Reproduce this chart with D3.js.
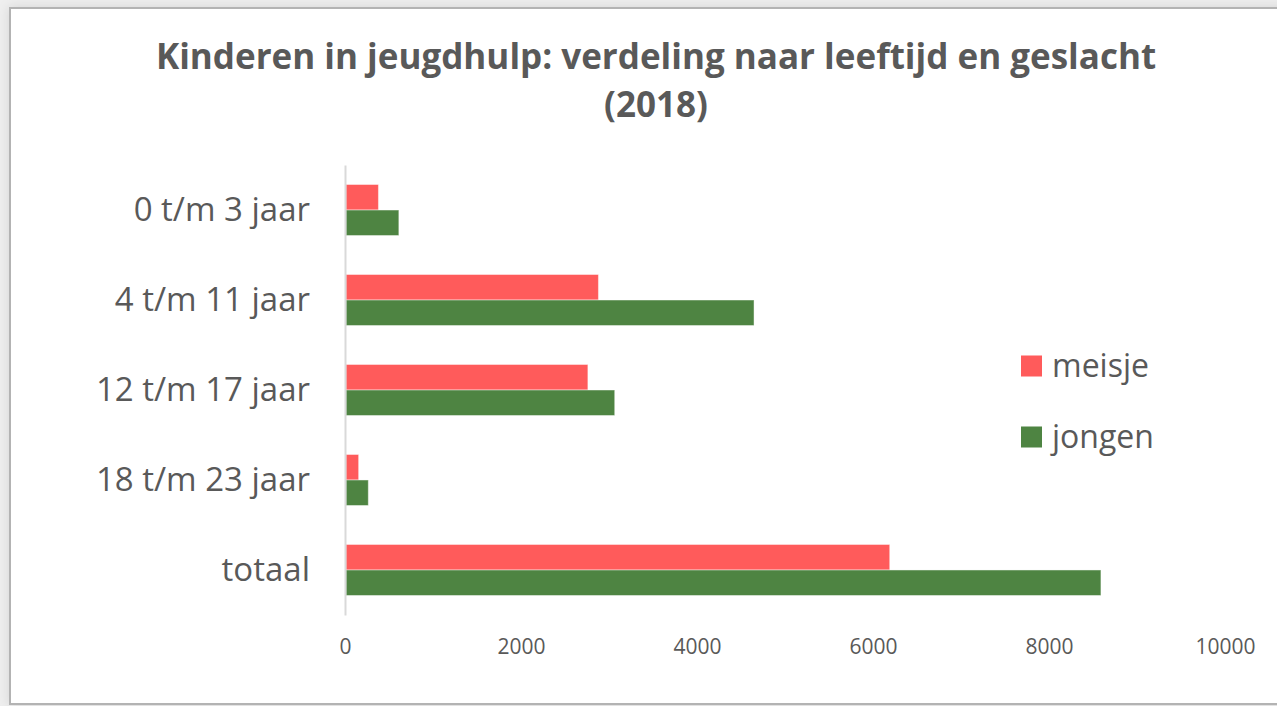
<!DOCTYPE html>
<html>
<head>
<meta charset="utf-8">
<title>Kinderen in jeugdhulp</title>
<script src="https://d3js.org/d3.v7.min.js"></script>
<style>
body { margin: 0; background: #efefef; }
svg { display: block; }
text { font-family: "Open Sans", sans-serif; fill: #595959; }
</style>
</head>
<body>
<svg id="chart" width="1277" height="706"></svg>
<script>
// data
var categories = ["0 t/m 3 jaar", "4 t/m 11 jaar", "12 t/m 17 jaar", "18 t/m 23 jaar", "totaal"];
var series = ["meisje", "jongen"];
var meisje = [380, 2880, 2760, 155, 6190];
var jongen = [612, 4648, 3065, 265, 8590];
var xTicks = [0, 2000, 4000, 6000, 8000, 10000];
var titleLines = ["Kinderen in jeugdhulp: verdeling naar leeftijd en geslacht", "(2018)"];

var colors = {meisje: "#ff5b5b", jongen: "#4e8442"};
var values = {meisje: meisje, jongen: jongen};

var svg = d3.select("#chart");

// frame
var defs = svg.append("defs");
var f = defs.append("filter").attr("id", "shadow")
  .attr("x", "-5%").attr("y", "-5%").attr("width", "110%").attr("height", "110%");
f.append("feGaussianBlur").attr("in", "SourceAlpha").attr("stdDeviation", 6);
f.append("feOffset").attr("dx", 0).attr("dy", 0).attr("result", "blur");
f.append("feFlood").attr("flood-color", "#000").attr("flood-opacity", 0.12);
f.append("feComposite").attr("in2", "blur").attr("operator", "in");
var m = f.append("feMerge");
m.append("feMergeNode");
m.append("feMergeNode").attr("in", "SourceGraphic");

svg.append("rect")
  .attr("x", 10).attr("y", 8)
  .attr("width", 1300).attr("height", 696)
  .attr("fill", "#fff")
  .attr("stroke", "#b3b3b3")
  .attr("stroke-width", 2)
  .attr("filter", "url(#shadow)");

// title
svg.append("g").selectAll("text")
  .data(titleLines)
  .join("text")
  .attr("x", 656)
  .attr("y", function(d, i) { return 69 + i * 48; })
  .attr("text-anchor", "middle")
  .style("font-size", "35px")
  .style("font-weight", "bold")
  .text(function(d) { return d; });

var x = d3.scaleLinear().domain([0, 10000]).range([345, 1225]);
var y = d3.scaleBand().domain(categories).range([165, 615])
  .paddingInner(0.433).paddingOuter(0.2167);
var ySub = d3.scaleBand().domain(series).range([0, y.bandwidth()]);

// bars
var groups = svg.append("g").selectAll("g")
  .data(categories)
  .join("g")
  .attr("transform", function(d) { return "translate(0," + y(d) + ")"; });

groups.selectAll("rect")
  .data(function(d, i) {
    return series.map(function(s) { return {s: s, v: values[s][i]}; });
  })
  .join("rect")
  .attr("x", x(0) + 1)
  .attr("y", function(d) { return ySub(d.s); })
  .attr("width", function(d) { return x(d.v) - x(0) - 1; })
  .attr("height", ySub.bandwidth())
  .attr("fill", function(d) { return colors[d.s]; })
  .attr("stroke", "rgba(255,255,255,0.45)")
  .attr("stroke-width", 1);

// x axis (labels only)
var xAxis = svg.append("g")
  .attr("transform", "translate(0,647)")
  .call(d3.axisBottom(x).tickValues(xTicks).tickSize(0).tickPadding(0).tickFormat(d3.format("d")));
xAxis.select(".domain").remove();
xAxis.selectAll("text")
  .attr("dy", "0.35em")
  .style("font-size", "21px")
  .style("fill", "#595959");

// y axis
var yAxis = svg.append("g")
  .attr("transform", "translate(345,0)")
  .call(d3.axisLeft(y).tickSize(0).tickPadding(35));
yAxis.select(".domain")
  .attr("stroke", "#d9d9d9")
  .attr("stroke-width", 2);
yAxis.selectAll("text")
  .style("font-size", "33px")
  .style("fill", "#595959");

// legend
var ly = d3.scalePoint().domain(series).range([366, 437]);
var legend = svg.append("g").selectAll("g")
  .data(series)
  .join("g")
  .attr("transform", function(d) { return "translate(1021," + ly(d) + ")"; });
legend.append("rect")
  .attr("x", 0).attr("y", -10.5)
  .attr("width", 21).attr("height", 21)
  .attr("fill", function(d) { return colors[d]; });
legend.append("text")
  .attr("x", 31)
  .attr("dy", "0.35em")
  .style("font-size", "32px")
  .text(function(d) { return d; });
</script>
</body>
</html>
